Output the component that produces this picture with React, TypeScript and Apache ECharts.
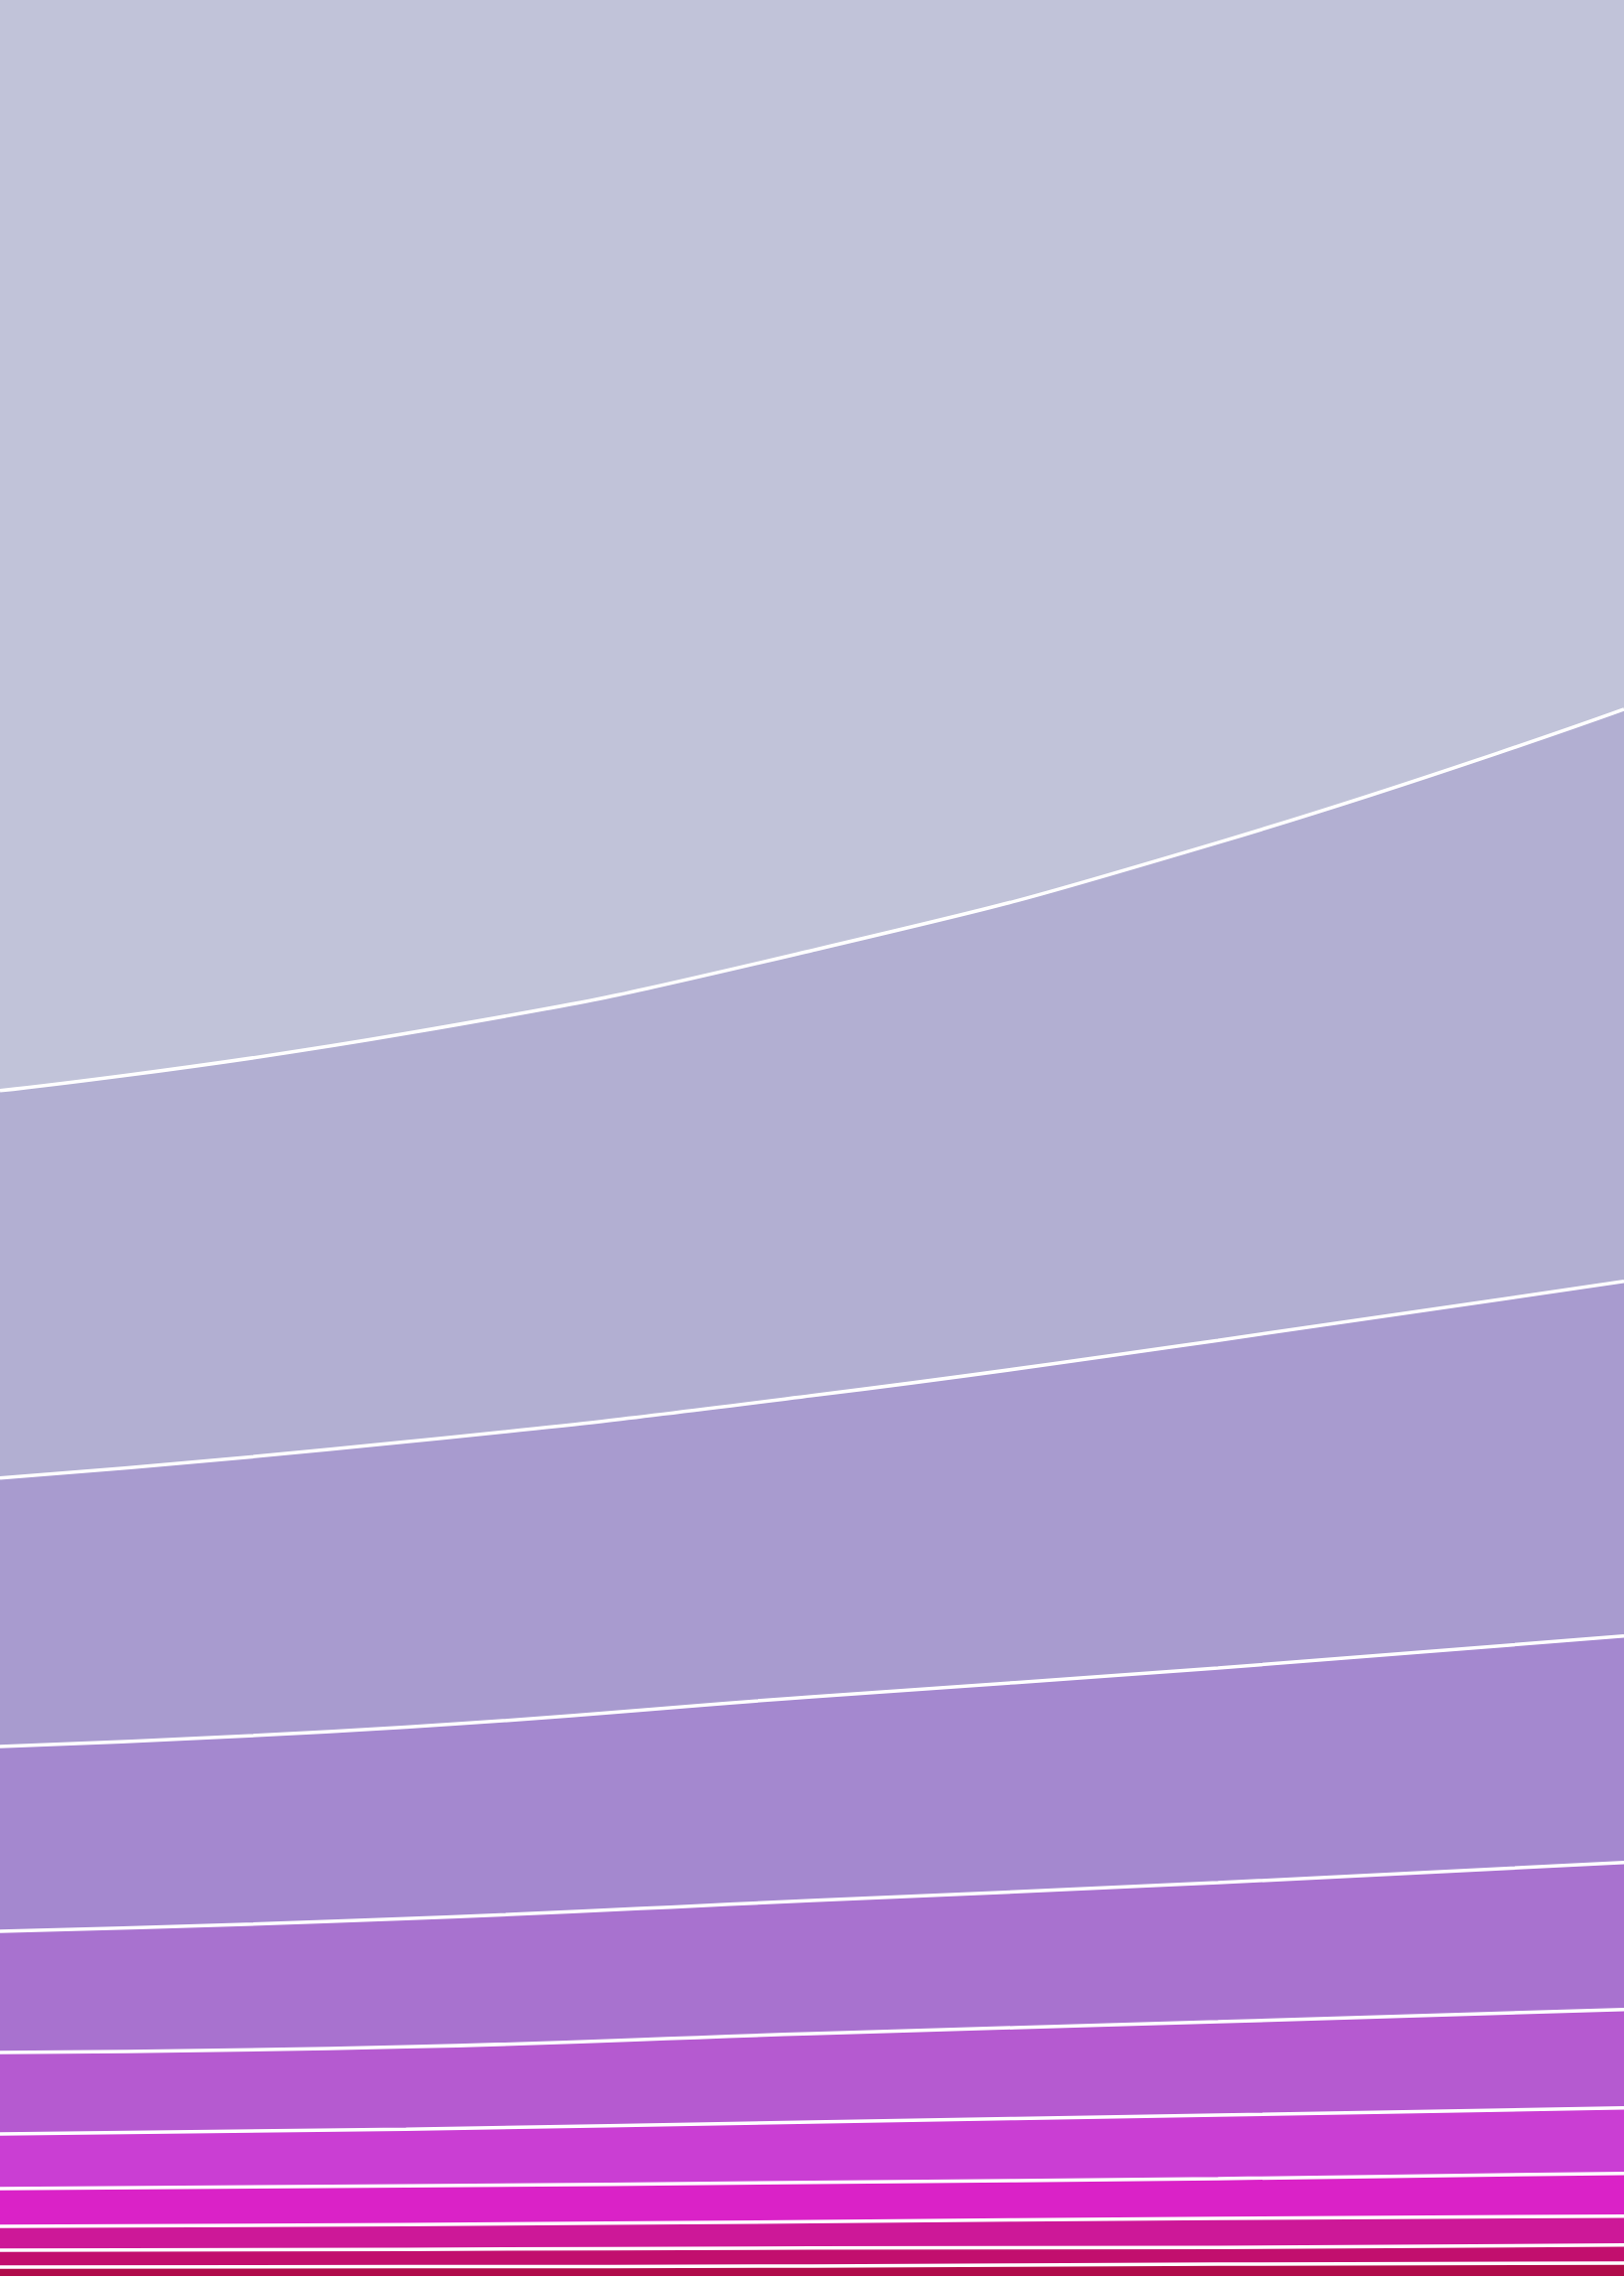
import React, { useEffect, useRef } from "react";
import * as echarts from "echarts";

// x positions (evenly spaced across the chart)
const categories = ["1", "2", "3", "4", "5"];

// Band shares (%), from bottom band to top band
const band01 = [0.39, 0.41, 0.44, 0.52, 0.57];
const band02 = [0.74, 0.76, 0.79, 0.74, 0.79];
const band03 = [1.05, 1.09, 1.16, 1.27, 1.27];
const band04 = [1.66, 1.70, 1.72, 1.75, 1.88];
const band05 = [2.40, 2.49, 2.66, 2.79, 2.88];
const band06 = [3.58, 3.62, 3.88, 4.10, 4.32];
const band07 = [5.33, 5.63, 5.85, 6.11, 6.46];
const band08 = [8.12, 8.42, 8.95, 9.43, 9.95];
const band09 = [11.79, 12.53, 13.23, 14.40, 15.58];
const band10 = [17.02, 17.94, 19.56, 21.87, 25.14];
const band11 = [47.92, 45.41, 41.76, 37.02, 31.16];

const bands = [band01, band02, band03, band04, band05, band06, band07, band08, band09, band10, band11];

const bandColors = [
  "#b00c4a",
  "#c20f6e",
  "#cd1898",
  "#da22c7",
  "#ca3ed3",
  "#b55ad0",
  "#a872cf",
  "#a488cf",
  "#a89bcf",
  "#b2afd2",
  "#c1c3d9",
];

export default function App() {
  const ref = useRef<HTMLDivElement>(null);
  useEffect(() => {
    if (!ref.current) return;
    const chart = echarts.init(ref.current, null, { renderer: "svg" });
    const areaSeries = bands.map((d, i) => ({
      type: "line",
      name: "band" + (i + 1),
      stack: "area",
      data: d,
      smooth: true,
      symbol: "none",
      lineStyle: { width: 0 },
      areaStyle: { color: bandColors[i], opacity: 1 },
      z: 2,
      silent: true,
    }));
    const lineSeries = bands.slice(0, 10).map((d, i) => ({
      type: "line",
      name: "edge" + (i + 1),
      stack: "edges",
      data: d,
      smooth: true,
      symbol: "none",
      lineStyle: { width: 3.5, color: "#ffffff" },
      z: 3,
      silent: true,
    }));
    chart.setOption({
      animation: false,
      backgroundColor: "#ffffff",
      grid: { left: 0, right: 0, top: 0, bottom: 3 },
      xAxis: { type: "category", data: categories, boundaryGap: false, show: false },
      yAxis: { type: "value", min: 0, max: 100, show: false },
      series: [...areaSeries, ...lineSeries],
    });
    return () => chart.dispose();
  }, []);
  return (
    <div
      ref={ref}
      style={{ position: "absolute", left: 0, top: 0, width: 1635, height: 2294 }}
    />
  );
}
